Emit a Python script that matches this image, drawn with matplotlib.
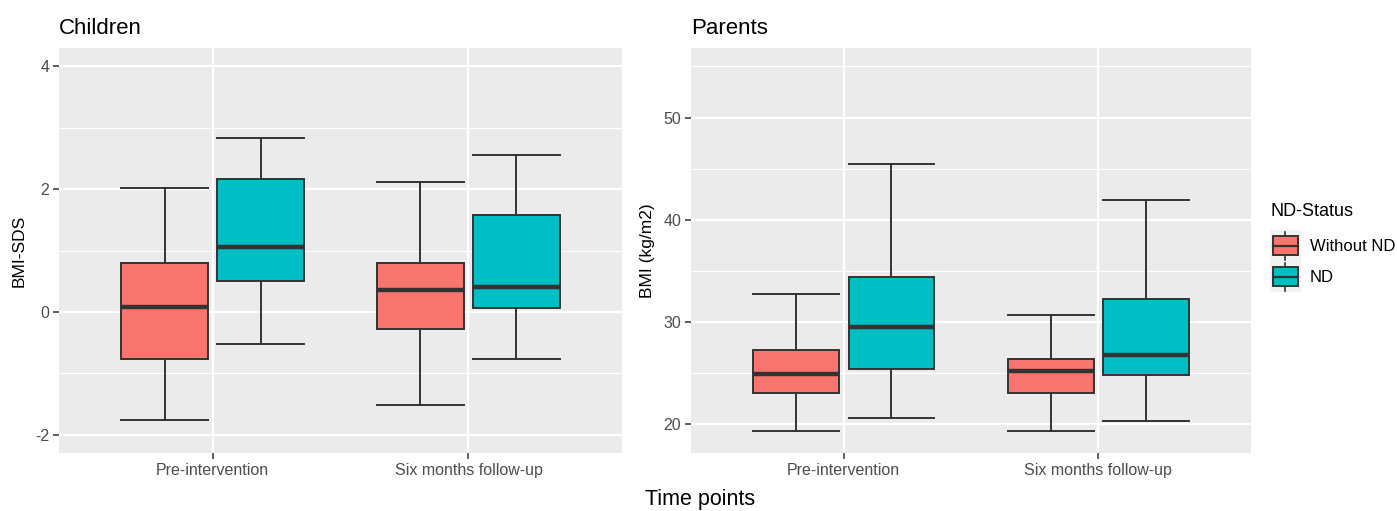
import matplotlib.pyplot as plt
from matplotlib.patches import Rectangle
from matplotlib.lines import Line2D
from matplotlib.legend_handler import HandlerBase
from matplotlib.ticker import MultipleLocator

plt.rcParams['font.family'] = ['Liberation Sans', 'DejaVu Sans']
plt.rcParams['axes.unicode_minus'] = False

time_points = ['Pre-intervention', 'Six months follow-up']
groups = ['Without ND', 'ND']
colors = ['#F8766D', '#00BFC4']

# five-number summaries per group: [whislo, q1, med, q3, whishi] per time point
children = {
    'Without ND': [[-1.76, -0.76, 0.08, 0.79, 2.02], [-1.52, -0.28, 0.35, 0.79, 2.12]],
    'ND': [[-0.52, 0.50, 1.05, 2.17, 2.84], [-0.76, 0.06, 0.41, 1.58, 2.56]],
}
parents = {
    'Without ND': [[19.4, 23.1, 24.9, 27.3, 32.7], [19.4, 23.05, 25.25, 26.35, 30.7]],
    'ND': [[20.6, 25.4, 29.5, 34.4, 45.5], [20.3, 24.8, 26.8, 32.3, 41.9]],
}

EDGE = '#333333'
W = 0.3375
OFF = [-0.1875, 0.1875]


def draw_panel(ax, data, ylim, major, title, ylabel):
    ax.set_facecolor('#EBEBEB')
    for gi, g in enumerate(groups):
        stats = []
        for v in data[g]:
            stats.append(dict(whislo=v[0], q1=v[1], med=v[2], q3=v[3], whishi=v[4], fliers=[]))
        pos = [i + 1 + OFF[gi] for i in range(len(time_points))]
        ax.bxp(stats, positions=pos, widths=W, capwidths=W, patch_artist=True,
               showfliers=False,
               boxprops=dict(facecolor=colors[gi], edgecolor=EDGE, linewidth=1.4),
               medianprops=dict(color=EDGE, linewidth=3.2, solid_capstyle='butt'),
               whiskerprops=dict(color=EDGE, linewidth=1.4),
               capprops=dict(color=EDGE, linewidth=1.4), zorder=3)
    ax.set_xlim(0.4, 2.6)
    ax.set_ylim(*ylim)
    ax.set_xticks([1, 2])
    ax.set_xticklabels(time_points)
    ax.yaxis.set_major_locator(MultipleLocator(major))
    ax.yaxis.set_minor_locator(MultipleLocator(major / 2))
    ax.grid(which='major', color='white', linewidth=1.6, zorder=0)
    ax.grid(which='minor', axis='y', color='white', linewidth=0.8, zorder=0)
    ax.set_axisbelow(True)
    for s in ax.spines.values():
        s.set_visible(False)
    ax.tick_params(which='major', color=EDGE, length=4, width=1.1,
                   labelcolor='#4D4D4D', labelsize=11.5, pad=3)
    ax.tick_params(which='minor', length=0)
    ax.set_title(title, loc='left', fontsize=16, pad=10)
    ax.set_ylabel(ylabel, fontsize=12.5, labelpad=6)


class BoxHandler(HandlerBase):
    def create_artists(self, legend, orig_handle, xdescent, ydescent, width, height, fontsize, trans):
        x0, y0 = -xdescent, -ydescent
        bg = Rectangle((x0, y0), width, height, facecolor='#F2F2F2', edgecolor='none', transform=trans)
        bw = width * 0.8
        bx = x0 + (width - bw) / 2
        by = y0 + height * 0.2
        bh = height * 0.6
        cx = x0 + width / 2
        wl = Line2D([cx, cx], [y0 + height * 0.05, y0 + height * 0.95], color=EDGE, linewidth=1.2, transform=trans)
        box = Rectangle((bx, by), bw, bh, facecolor=orig_handle.get_facecolor(), edgecolor=EDGE,
                        linewidth=1.4, transform=trans)
        med = Line2D([bx, bx + bw], [by + bh / 2, by + bh / 2], color=EDGE, linewidth=1.6, transform=trans)
        return [bg, wl, box, med]


fig = plt.figure(figsize=(13.97, 5.11), dpi=100)
bottom = 1 - 453 / 511
height = 405 / 511
ax1 = fig.add_axes([59 / 1397, bottom, 563 / 1397, height])
ax2 = fig.add_axes([691 / 1397, bottom, 560 / 1397, height])

draw_panel(ax1, children, (-2.3, 4.3), 2, 'Children', 'BMI-SDS')
draw_panel(ax2, parents, (17.2, 56.8), 10, 'Parents', 'BMI (kg/m2)')

handles = [Rectangle((0, 0), 1, 1, facecolor=c) for c in colors]
leg = fig.legend(handles, groups, loc='upper left',
                 bbox_to_anchor=(1270 / 1397, 1 - 230 / 511), frameon=False,
                 handler_map={Rectangle: BoxHandler()}, handlelength=1.85, handleheight=2.5,
                 labelspacing=0.0, handletextpad=0.55, fontsize=12,
                 borderaxespad=0.0, borderpad=0.0)
fig.text(1271 / 1397, 1 - 211 / 511, 'ND-Status', ha='left', va='center', fontsize=13)

fig.text(700 / 1397, 1 - 500 / 511, 'Time points', ha='center', va='center', fontsize=15.5)

fig.savefig('out.png', dpi=100)
